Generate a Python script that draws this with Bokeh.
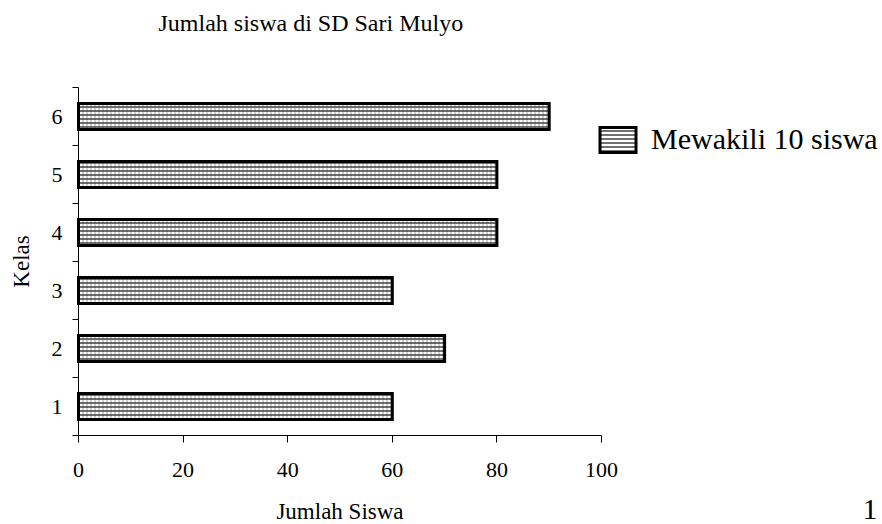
from bokeh.plotting import figure
from bokeh.models import (FixedTicker, Legend, LegendItem, ColumnDataSource, Range1d, Label)
from bokeh.embed import file_html
from bokeh.resources import INLINE

# ---- data ----
kelas = [1, 2, 3, 4, 5, 6]
jumlah = [60, 70, 60, 80, 80, 90]
x_ticks = [0, 20, 40, 60, 80, 100]
title_text = "Jumlah siswa di SD Sari Mulyo"
x_label = "Jumlah Siswa"
y_label = "Kelas"
legend_label = "Mewakili 10 siswa"
page_number = "1"

FONT = "Liberation Serif"
W, H = 882, 524
# plotting-area placement on the canvas (pixels)
AX_LEFT, AX_RIGHT, AX_TOP, AX_BOTTOM = 78, 601, 87, 435
X0, X1 = 0, 100
Y0, Y1 = 0.5, 6.5

sx = (AX_RIGHT - AX_LEFT) / (X1 - X0)
sy = (AX_BOTTOM - AX_TOP) / (Y1 - Y0)
x_range = Range1d(X0 - AX_LEFT / sx, X1 + (W - AX_RIGHT) / sx)
y_range = Range1d(Y0 - (H - AX_BOTTOM) / sy, Y1 + AX_TOP / sy)

source = ColumnDataSource(dict(kelas=kelas, jumlah=jumlah))

p = figure(width=W, height=H, output_backend="svg", toolbar_location=None,
           x_range=x_range, y_range=y_range,
           min_border_left=0, min_border_right=0, min_border_top=0, min_border_bottom=0)

p.title.visible = False
p.background_fill_color = "white"
p.border_fill_color = "white"
p.outline_line_color = None
p.xgrid.grid_line_color = None
p.ygrid.grid_line_color = None

# bars: background vertical dashes layer
r1 = p.hbar(y="kelas", right="jumlah", left=0, height=0.45, source=source,
            fill_color="white", line_color=None,
            hatch_pattern="vertical_line", hatch_color="#a0a0a0",
            hatch_scale=4, hatch_weight=1)
# bars: horizontal lines + thick border
r2 = p.hbar(y="kelas", right="jumlah", left=0, height=0.45, source=source,
            fill_color=None, line_color="black", line_width=3, line_join="miter",
            hatch_pattern="horizontal_line", hatch_color="#333333",
            hatch_scale=4, hatch_weight=1.4)

# x axis, drawn at y = 0.5 and spanning 0..100
xa = p.xaxis[0]
xa.fixed_location = Y0
xa.bounds = (X0, X1)
xa.ticker = FixedTicker(ticks=x_ticks)
xa.axis_label = x_label
xa.axis_line_color = "black"
xa.major_tick_line_color = "black"
xa.major_tick_out = 7
xa.major_tick_in = 0
xa.minor_tick_line_color = None
xa.major_label_text_font = FONT
xa.major_label_text_font_size = "22px"
xa.major_label_text_color = "black"
xa.major_label_standoff = 20
xa.axis_label_text_font = FONT
xa.axis_label_text_font_size = "23px"
xa.axis_label_text_font_style = "normal"
xa.axis_label_text_color = "black"
xa.axis_label_standoff = 19

# y axis, drawn at x = 0 and spanning 0.5..6.5
ya = p.yaxis[0]
ya.fixed_location = X0
ya.bounds = (Y0, Y1)
ya.ticker = FixedTicker(ticks=kelas, minor_ticks=[k - 0.5 for k in kelas] + [kelas[-1] + 0.5])
ya.axis_label = y_label
ya.axis_line_color = "black"
ya.major_tick_line_color = None
ya.major_tick_out = 0
ya.major_tick_in = 0
ya.minor_tick_line_color = "black"
ya.minor_tick_out = 6
ya.minor_tick_in = 0
ya.major_label_text_font = FONT
ya.major_label_text_font_size = "22px"
ya.major_label_text_color = "black"
ya.major_label_standoff = 10
ya.major_label_orientation = "horizontal"
ya.axis_label_text_font = FONT
ya.axis_label_text_font_size = "23px"
ya.axis_label_text_font_style = "normal"
ya.axis_label_text_color = "black"
ya.axis_label_standoff = 15

# legend
legend = Legend(items=[LegendItem(label=legend_label, renderers=[r2])],
                location=(595, 368), padding=0, margin=0, spacing=0,
                border_line_color=None, background_fill_alpha=0,
                glyph_width=45, glyph_height=31, label_standoff=11,
                label_text_font=FONT, label_text_font_size="30px",
                label_text_color="black")
p.add_layout(legend, "center")

# title and page number
p.add_layout(Label(x=158, y=H - 22, x_units="screen", y_units="screen", text=title_text,
                   text_font=FONT, text_font_size="24px", text_color="black",
                   text_baseline="alphabetic", text_align="left"))
p.add_layout(Label(x=862, y=H - 509, x_units="screen", y_units="screen", text=page_number,
                   text_font=FONT, text_font_size="30px", text_color="black",
                   text_baseline="alphabetic", text_align="left"))

open("out.html", "w").write(file_html(p, INLINE))
